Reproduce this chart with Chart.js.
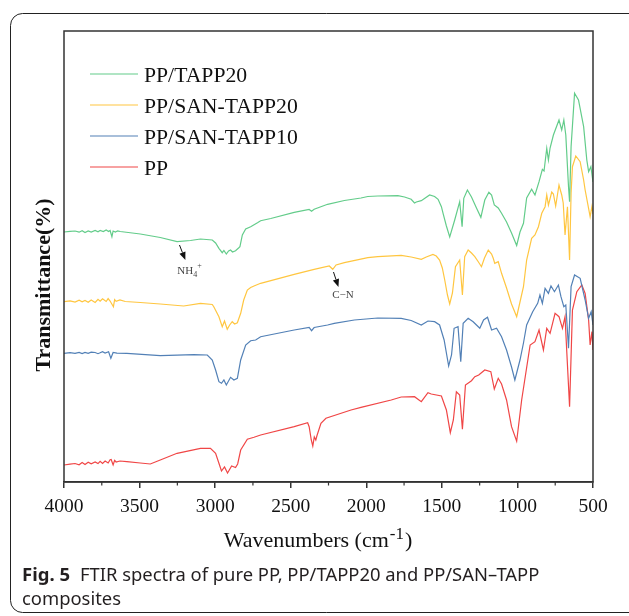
<!DOCTYPE html>
<html>
<head>
<meta charset="utf-8">
<script src="https://cdn.jsdelivr.net/npm/chart.js@4.4.1/dist/chart.umd.min.js"></script>
<style>
  html, body { margin: 0; padding: 0; background: #fff; }
  canvas { display: block; }
</style>
</head>
<body>
<canvas id="ftir" width="629" height="616"></canvas>
<script>
// FTIR spectra: [wavenumber cm-1, transmittance a.u. (curves stacked with offsets)]
var seriesNames = ['PP/TAPP20', 'PP/SAN-TAPP20', 'PP/SAN-TAPP10', 'PP'];
var xTicks = [4000, 3500, 3000, 2500, 2000, 1500, 1000, 500];
var xMinorTicks = [3750, 3250, 2750, 2250, 1750, 1250, 750];

var ppTapp20 = [
  [4000, 250], [3960, 250.6], [3927, 251], [3900, 249.8], [3880, 251.2], [3861, 249.5], [3840, 251],
  [3820, 250], [3794, 251.5], [3775, 250.2], [3761, 251.5], [3740, 250.4], [3721, 252], [3705, 250.5],
  [3695, 251.5], [3683, 245.3], [3675, 251], [3660, 250], [3645, 251.2], [3628, 250.5], [3495, 248],
  [3363, 244.5], [3252, 240.3], [3163, 241.5],
  [3097, 243], [3019, 242], [2997, 239], [2975, 233.7], [2953, 229.3], [2942, 231.5], [2926, 228],
  [2911, 231], [2898, 232], [2885, 230], [2865, 231.3], [2845, 234], [2836, 235.3], [2820, 247],
  [2798, 253], [2765, 255.3], [2720, 259.3], [2699, 261.3], [2632, 263.5], [2477, 269.7], [2378, 272.5],
  [2362, 270.8], [2345, 272.7], [2256, 277.7], [2145, 281.5], [2035, 284], [1990, 285.5], [1924, 286],
  [1791, 286.3], [1747, 285], [1703, 282.7], [1681, 279], [1669, 280], [1636, 281.3], [1581, 287],
  [1548, 285.5], [1525, 282.7], [1503, 275.3], [1492, 268.7], [1470, 256], [1448, 245], [1415, 262],
  [1382, 280.3], [1366, 255.3], [1355, 283.7], [1331, 292], [1304, 285], [1271, 274], [1242, 264.7],
  [1216, 282], [1189, 289.7], [1171, 287], [1153, 277], [1127, 274], [1105, 268.7], [1072, 260],
  [1039, 249], [1005, 236.5], [983, 250], [960, 258.7], [939, 284], [906, 292.7], [884, 287],
  [857, 300.3], [835, 312.7], [824, 311], [806, 333.7], [795, 322], [784, 334], [762, 347],
  [725, 362], [707, 352], [693, 362], [680, 347], [662, 295.3], [655, 280.3], [645, 335.3],
  [622, 388.7], [596, 382], [562, 355.3], [541, 322], [529, 310.3], [514, 315.3], [500, 300]
];

var ppSanTapp20 = [
  [4000, 180.3], [3960, 181.2], [3927, 180], [3900, 181.8], [3880, 180.2], [3861, 181.5], [3840, 179.8],
  [3820, 182], [3794, 179.5], [3775, 182.6], [3761, 180.8], [3745, 183.2], [3721, 180.5], [3708, 183.4],
  [3695, 181], [3673, 175.3], [3665, 182.4], [3655, 180.6], [3630, 182], [3595, 180.5], [3495, 179.5],
  [3363, 178], [3208, 176], [3097, 178.7],
  [3019, 177.5], [3009, 175.3], [2975, 165.3], [2953, 155.3], [2938, 161], [2920, 152.7], [2904, 157],
  [2887, 160.3], [2871, 158], [2853, 159.3], [2831, 168.7], [2811, 182], [2787, 192], [2765, 194.5],
  [2743, 196], [2699, 198.7], [2477, 207.7], [2345, 212.7], [2245, 216], [2222, 212.7], [2200, 217],
  [2145, 219.3], [1990, 224.3], [1924, 225.3], [1769, 226.7], [1703, 225], [1636, 222.7], [1603, 225],
  [1559, 227.5], [1537, 226], [1515, 222], [1497, 214], [1481, 202], [1463, 187], [1448, 178],
  [1430, 189], [1410, 215.3], [1382, 222], [1364, 187], [1349, 225.3], [1326, 232], [1304, 229],
  [1282, 225.3], [1258, 220], [1238, 215.3], [1218, 224], [1193, 232], [1171, 228], [1160, 223.7],
  [1150, 218.7], [1127, 220.3], [1105, 208.7], [1072, 194], [1039, 178], [1005, 165.3], [983, 180],
  [960, 195.3], [939, 222], [906, 243.7], [884, 247], [861, 255.3], [839, 268.7], [817, 275.3],
  [806, 287], [795, 277], [773, 290], [762, 288], [747, 276], [725, 297], [707, 287], [697, 279],
  [685, 247], [669, 275.3], [655, 222], [645, 288.7], [636, 315.3], [614, 326], [585, 320.3],
  [562, 302], [552, 292], [519, 265.3], [507, 275.5], [500, 268]
];

var ppSanTapp10 = [
  [4000, 128.7], [3960, 129.3], [3927, 128.6], [3900, 129.6], [3880, 128.4], [3861, 129.5], [3840, 128.6],
  [3820, 129.8], [3794, 129.5], [3775, 128.3], [3761, 129.2], [3745, 130.4], [3728, 129], [3705, 130.2],
  [3690, 123.7], [3675, 129.5], [3650, 128.8], [3584, 128.7], [3363, 126.3], [3141, 127.3], [3052, 127],
  [3019, 122], [2997, 112],
  [2975, 100.3], [2958, 98.7], [2942, 102], [2926, 97], [2898, 104.7], [2876, 102], [2853, 103.7],
  [2831, 122], [2798, 137], [2765, 141.3], [2732, 142], [2699, 145.3], [2477, 152], [2378, 154.7],
  [2362, 151.3], [2345, 154.5], [2256, 157], [2212, 158.7], [2079, 162], [1924, 164], [1769, 163.7],
  [1703, 161.5], [1636, 157], [1592, 161], [1548, 160.3], [1515, 157], [1485, 142], [1455, 116],
  [1436, 127], [1419, 153.7], [1393, 155.3], [1375, 120.3], [1359, 158.7], [1326, 163.7], [1293, 160.3],
  [1271, 157], [1249, 153.7], [1224, 162], [1198, 164.7], [1171, 152], [1138, 153.7], [1105, 145.3],
  [1072, 132], [1039, 115], [1017, 102], [983, 122], [960, 139], [939, 157], [899, 170.3],
  [866, 178.7], [851, 187], [835, 178.7], [817, 193.7], [795, 188.7], [778, 196], [755, 190.3],
  [729, 197], [712, 185.3], [693, 175.3], [680, 177], [662, 133.7], [645, 195.3], [622, 207],
  [585, 203.7], [552, 182], [529, 163.7], [512, 170.3], [500, 157]
];

var pp = [
  [4000, 17], [3960, 17.8], [3927, 18.5], [3900, 17.2], [3880, 19.4], [3861, 17.5], [3840, 19.8],
  [3820, 18.2], [3794, 20], [3775, 18.4], [3761, 20.6], [3745, 18.5], [3728, 21], [3708, 19],
  [3695, 22.3], [3688, 22.5], [3675, 17], [3665, 21.6], [3655, 20], [3630, 21], [3584, 20.3],
  [3495, 19], [3429, 18], [3363, 22],
  [3252, 28.7], [3097, 33.7], [3031, 33.7], [2997, 28.7], [2975, 18.7], [2958, 11], [2938, 15],
  [2918, 9], [2891, 16], [2865, 14.5], [2851, 18], [2831, 32], [2787, 42.7], [2743, 44.7],
  [2699, 47], [2477, 55.3], [2388, 59.3], [2378, 55.3], [2364, 42], [2354, 36], [2344, 45],
  [2334, 42], [2327, 46], [2300, 58.7], [2267, 63.7], [2101, 72], [2035, 74.7], [1835, 82],
  [1769, 85], [1681, 85.3], [1636, 80.3], [1592, 89.3], [1570, 88], [1503, 86], [1470, 72],
  [1444, 49.3], [1424, 62], [1404, 90.3], [1382, 87], [1364, 52.7], [1344, 97], [1304, 101.3],
  [1282, 105.3], [1256, 107], [1216, 112], [1176, 110.3], [1153, 93], [1127, 103.7], [1105, 98],
  [1072, 82], [1039, 55.3], [1005, 40.8], [972, 82], [916, 137], [884, 140.3], [857, 152],
  [828, 132], [806, 153.7], [784, 148.7], [751, 168.7], [725, 165.3], [702, 153.7], [685, 165.3],
  [673, 128.7], [655, 75.3], [636, 172], [607, 190.3], [574, 197], [552, 188.7], [529, 162],
  [519, 137], [507, 150.3], [500, 132]
];

// annotation anchors in data space: [arrow start wn, T, arrow end wn, T, label wn, T]
var nh4Note = [3236, 237, 3197, 222, 3250, 208];
var cnNote = [2217, 210, 2184, 195, 2154, 187];

function toPoints(arr) {
  return arr.map(function (p) { return { x: p[0], y: p[1] }; });
}

var serif = '"Liberation Serif", "Times New Roman", serif';
var sans = '"Noto Sans", "Open Sans", sans-serif';

function drawArrow(ctx, x1, y1, x2, y2) {
  var ang = Math.atan2(y2 - y1, x2 - x1);
  var hl = 8, hw = 3.2;
  var bx = x2 - hl * Math.cos(ang), by = y2 - hl * Math.sin(ang);
  ctx.strokeStyle = '#111';
  ctx.lineWidth = 1;
  ctx.beginPath();
  ctx.moveTo(x1, y1);
  ctx.lineTo(bx, by);
  ctx.stroke();
  ctx.fillStyle = '#111';
  ctx.beginPath();
  ctx.moveTo(x2, y2);
  ctx.lineTo(bx + hw * Math.sin(ang), by - hw * Math.cos(ang));
  ctx.lineTo(bx - hw * Math.sin(ang), by + hw * Math.cos(ang));
  ctx.closePath();
  ctx.fill();
}

var decor = {
  id: 'decor',
  afterDraw: function (chart) {
    var ctx = chart.ctx;
    var a = chart.chartArea;
    var xs = chart.scales.x, ys = chart.scales.y;
    ctx.save();

    // plot frame
    ctx.strokeStyle = '#333';
    ctx.lineWidth = 1.5;
    ctx.strokeRect(a.left, a.top, a.right - a.left, a.bottom - a.top);

    // minor ticks
    ctx.lineWidth = 1.2;
    xMinorTicks.forEach(function (v) {
      var px = xs.getPixelForValue(v);
      ctx.beginPath();
      ctx.moveTo(px, a.bottom);
      ctx.lineTo(px, a.bottom + 3.5);
      ctx.stroke();
    });

    // legend inside the plot
    ctx.font = '21.7px ' + serif;
    ctx.textBaseline = 'middle';
    ctx.textAlign = 'left';
    chart.data.datasets.forEach(function (ds, i) {
      var y = 74 + i * 31;
      ctx.strokeStyle = ds.borderColor;
      ctx.lineWidth = 1.2;
      ctx.beginPath();
      ctx.moveTo(90, y);
      ctx.lineTo(138, y);
      ctx.stroke();
      ctx.fillStyle = '#111';
      ctx.fillText(ds.label, 144, y + 2);
    });

    // y title
    ctx.save();
    ctx.translate(44, 285);
    ctx.rotate(-Math.PI / 2);
    ctx.font = 'bold 22px ' + serif;
    ctx.textAlign = 'center';
    ctx.textBaseline = 'middle';
    ctx.fillStyle = '#111';
    ctx.fillText('Transmittance(%)', 0, 0);
    ctx.restore();

    // x title with superscript
    ctx.fillStyle = '#111';
    ctx.textBaseline = 'alphabetic';
    ctx.font = '22px ' + serif;
    var t1 = 'Wavenumbers (cm', t3 = ')';
    var w1 = ctx.measureText(t1).width, w3 = ctx.measureText(t3).width;
    ctx.font = '17px ' + serif;
    var t2 = '-1', w2 = ctx.measureText(t2).width + 2;
    var start = 318 - (w1 + w2 + w3) / 2;
    ctx.font = '22px ' + serif;
    ctx.fillText(t1, start, 547);
    ctx.fillText(t3, start + w1 + w2, 547);
    ctx.font = '17px ' + serif;
    ctx.fillText(t2, start + w1 + 1, 539);

    // annotations
    [nh4Note, cnNote].forEach(function (n) {
      drawArrow(ctx, xs.getPixelForValue(n[0]), ys.getPixelForValue(n[1]),
        xs.getPixelForValue(n[2]), ys.getPixelForValue(n[3]));
    });
    ctx.fillStyle = '#444';
    ctx.font = '11px ' + serif;
    ctx.textBaseline = 'alphabetic';
    var lx = xs.getPixelForValue(nh4Note[4]), ly = ys.getPixelForValue(nh4Note[5]);
    ctx.fillText('NH', lx, ly);
    var nw = ctx.measureText('NH').width;
    ctx.font = '8px ' + serif;
    ctx.fillText('4', lx + nw, ly + 3);
    ctx.fillText('+', lx + nw + 4, ly - 6);
    ctx.font = '11px ' + serif;
    ctx.textAlign = 'center';
    ctx.textBaseline = 'middle';
    ctx.fillText('C\u2212N', xs.getPixelForValue(cnNote[4]), ys.getPixelForValue(cnNote[5]));

    // caption
    ctx.textAlign = 'left';
    ctx.textBaseline = 'alphabetic';
    ctx.fillStyle = '#231f20';
    ctx.font = 'bold 18.5px ' + sans;
    ctx.fillText('Fig. 5', 22, 581);
    ctx.font = '18.4px ' + sans;
    ctx.fillText('FTIR spectra of pure PP, PP/TAPP20 and PP/SAN\u2013TAPP', 80, 581, 460);
    ctx.fillText('composites', 22, 605);

    // outer rounded border
    ctx.strokeStyle = '#222';
    ctx.lineWidth = 1;
    ctx.beginPath();
    ctx.roundRect(10.5, 13.5, 640, 599, 12);
    ctx.stroke();

    ctx.restore();
  }
};

var ctx = document.getElementById('ftir').getContext('2d');
var ftirChart = new Chart(ctx, {
  type: 'line',
  data: {
    datasets: [
      { label: seriesNames[0], data: toPoints(ppTapp20), borderColor: '#63cc8a' },
      { label: seriesNames[1], data: toPoints(ppSanTapp20), borderColor: '#ffc640' },
      { label: seriesNames[2], data: toPoints(ppSanTapp10), borderColor: '#5280b6' },
      { label: seriesNames[3], data: toPoints(pp), borderColor: '#f04646' }
    ]
  },
  options: {
    responsive: false,
    animation: false,
    layout: { padding: { left: 64, right: 36, top: 31, bottom: 94 } },
    plugins: { legend: { display: false }, tooltip: { enabled: false } },
    elements: {
      point: { radius: 0 },
      line: { tension: 0, borderWidth: 1.2, fill: false }
    },
    scales: {
      x: {
        type: 'linear',
        reverse: true,
        min: 500,
        max: 4000,
        afterBuildTicks: function (s) { s.ticks = xTicks.map(function (v) { return { value: v }; }); },
        afterFit: function (s) { s.height = 40; },
        ticks: {
          font: { family: serif, size: 19.5 }, color: '#111', padding: 7, maxRotation: 0, autoSkip: false,
          callback: function (v) { return String(v); }
        },
        grid: { drawOnChartArea: false, tickLength: 6, color: '#333', lineWidth: 1.5 },
        border: { color: '#333', width: 1.5 }
      },
      y: { display: false, min: 0, max: 451 }
    }
  },
  plugins: [decor]
});
</script>
</body>
</html>
